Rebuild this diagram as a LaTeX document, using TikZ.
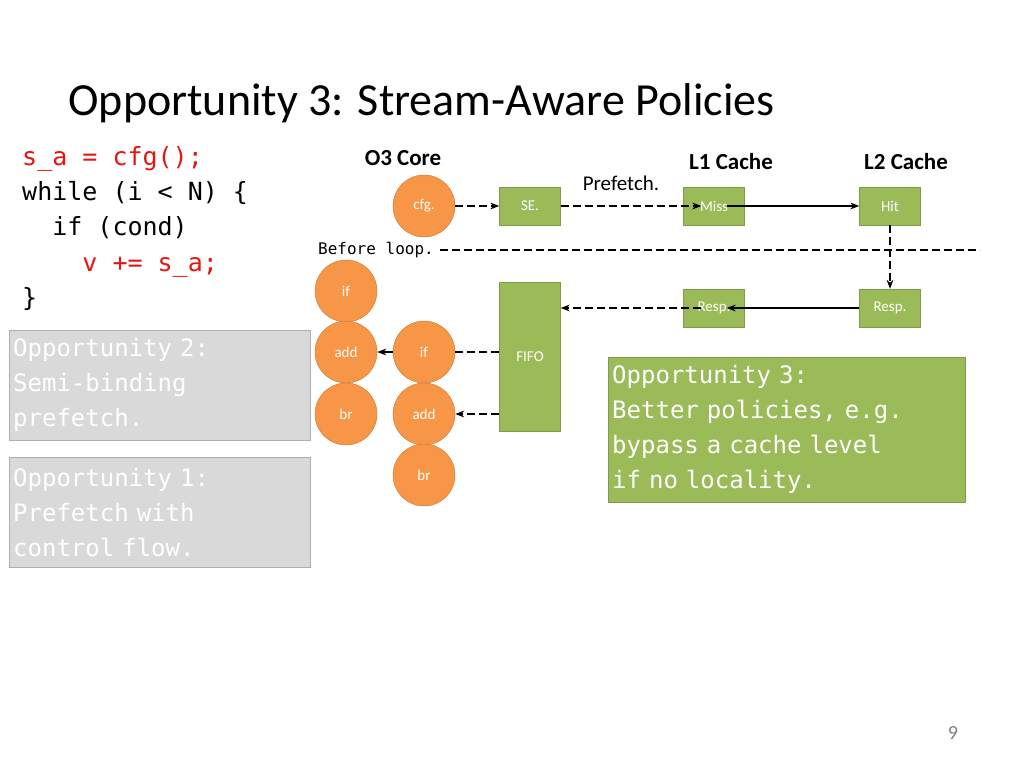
\documentclass[tikz,border=0pt]{standalone}
\usepackage{fontspec}
\setmainfont{Carlito}
\newfontfamily\codefont{DejaVu Sans Mono}[WordSpace={1,0,0}]
\usetikzlibrary{arrows.meta}
\definecolor{uorange}{HTML}{F79646}
\definecolor{uorangeline}{HTML}{C87533}
\definecolor{ugreen}{HTML}{9BBB59}
\definecolor{ugreenline}{HTML}{7F9A48}
\definecolor{ugrey}{HTML}{D9D9D9}
\definecolor{codered}{HTML}{E8150F}
\begin{document}
\begin{tikzpicture}[x=1pt,y=-1pt,
  op/.style={circle, fill=uorange, draw=uorangeline, minimum size=62pt, inner sep=0pt, text=white, font=\fontsize{15}{17}\selectfont},
  blk/.style={rectangle, fill=ugreen, draw=ugreenline, minimum width=61pt, minimum height=38pt, inner sep=0pt, text=white, font=\fontsize{15}{17}\selectfont},
  head/.style={font=\bfseries\fontsize{23}{27}\selectfont},
  note/.style={rectangle, anchor=north west, align=left, inner sep=4pt, text width=293pt, font=\codefont\fontsize{24}{35}\selectfont},
  dsh/.style={line width=2.5pt, dash pattern=on 8pt off 4pt, -{Stealth[length=9pt]}},
  sol/.style={line width=2.5pt, -{Stealth[length=9pt]}}]
\useasboundingbox (0,0) rectangle (1024,768);

% title and code
\node[anchor=base west, font=\fontsize{46}{52}\selectfont] (title) at (65,115) {Opportunity 3: Stream-Aware Policies};
\node[anchor=north west, align=left, inner sep=0pt, font=\codefont\fontsize{25}{35.3}\selectfont] (code) at (22,146)
  {\textcolor{codered}{s\_a = cfg();}\\while (i < N) \{\\\ \ if (cond)\\\ \ \ \ \textcolor{codered}{v += s\_a;}\\\}};

% notes
\node[note, fill=ugrey, draw=ugrey!80!black, text=white, minimum height=110pt] (opp2) at (9,330) {Opportunity 2:\\Semi-binding\\prefetch.};
\node[note, fill=ugrey, draw=ugrey!80!black, text=white, minimum height=110pt] (opp1) at (9,457) {Opportunity 1:\\Prefetch with\\control flow.};
\node[note, fill=ugreen, draw=ugreenline, text=white, text width=349pt, minimum height=145pt] (opp3) at (608,357) {Opportunity 3:\\Better policies, e.g.\\bypass a cache level\\if no locality.};

% headers
\node[head] (core) at (403,158) {O3 Core};
\node[head] (l1) at (731,162) {L1 Cache};
\node[head] (l2) at (906,162) {L2 Cache};

% core ops
\node[op] (cfg) at (424,206) {cfg.};
\node[op] (ifa) at (346,291) {if};
\node[op] (adda) at (346,352) {add};
\node[op] (bra) at (346,414) {br};
\node[op] (ifb) at (424,352) {if};
\node[op] (addb) at (424,414) {add};
\node[op] (brb) at (424,475) {br};

% blocks
\node[blk] (se) at (530,206) {SE.};
\node[blk, minimum height=149pt] (fifo) at (530,357) {FIFO};
\node[blk] (miss) at (714,206) {Miss};
\node[blk] (hit) at (890,206) {Hit};
\node[blk] (resp1) at (714,308) {Resp.};
\node[blk] (resp2) at (890,308) {Resp.};

\node[font=\fontsize{21}{25}\selectfont] (pf) at (621,183) {Prefetch.};
\node[anchor=west, inner sep=0pt, font=\codefont\fontsize{16}{18}\selectfont] (loop) at (318,250) {Before loop.};
\coordinate (loopend) at (980,250);
\node[text=gray, font=\fontsize{20}{24}\selectfont] (page) at (953,733) {9};

% connectors
\draw[dsh] (cfg) -- (se);
\draw[dsh] (se) -- ([xshift=18pt]miss.west);
\draw[sol] ([xshift=-18pt]miss.east) -- (hit);
\draw[dsh] (hit) -- (resp2);
\draw[sol] (resp2) -- ([xshift=-18pt]resp1.east);
\draw[dsh] ([xshift=18pt]resp1.west) -- (fifo.east |- resp1);
\draw[line width=2.5pt, dash pattern=on 8pt off 4pt] ([xshift=6pt]loop.east) -- (loopend);
\draw[line width=2.5pt, dash pattern=on 8pt off 4pt] (fifo.west |- ifb) -- (ifb);
\draw[dsh] (fifo.west |- addb) -- (addb);
\draw[sol] (ifb) -- (adda);
\end{tikzpicture}
\end{document}
